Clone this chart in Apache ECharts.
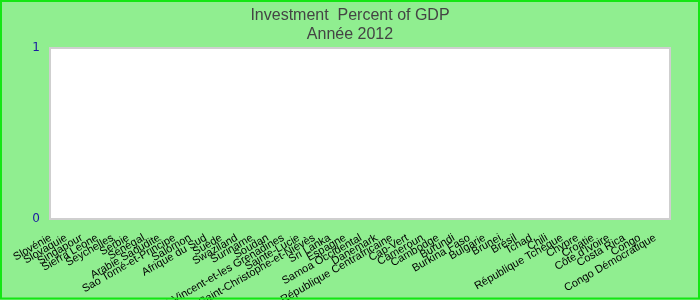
<!DOCTYPE html>
<html>
<head>
<meta charset="utf-8">
<script src="https://cdn.jsdelivr.net/npm/echarts@6/dist/echarts.min.js"></script>
<style>
html,body{margin:0;padding:0;background:#90EE90;}
#chart{width:700px;height:300px;}
</style>
</head>
<body>
<div id="chart"></div>
<script>
var categories = ["Slovénie","Slovaquie","Singapour","Sierra Leone","Seychelles","Serbie","Sénégal","Arabie Saoudite","Sao Tomé-et-Principe","Salomon","Afrique du Sud","Suède","Swaziland","Suriname","Soudan","Saint-Vincent-et-les Grenadines","Sainte-Lucie","Saint-Christophe-et-Niévès","Sri Lanka","Espagne","Samoa Occidental","Danemark","République Centrafricaine","Cap-Vert","Cameroun","Cambodge","Burundi","Burkina Faso","Bulgarie","Brunei","Brésil","Tchad","Chili","République Tchèque","Chypre","Croatie","Côte d'Ivoire","Costa Rica","Congo","Congo Démocratique"];
var values = [0,0,0,0,0,0,0,0,0,0,0,0,0,0,0,0,0,0,0,0,0,0,0,0,0,0,0,0,0,0,0,0,0,0,0,0,0,0,0,0];
var yTicks = [0, 1];
var titleText = "Investment  Percent of GDP";
var subtitleText = "Année 2012";

var chart = echarts.init(document.getElementById('chart'), null, {renderer:'canvas'});
chart.setOption({
  backgroundColor: '#90EE90',
  animation: false,
  title: {
    text: titleText + '\n' + subtitleText,
    left: 'center',
    top: 1,
    textStyle: {fontFamily: 'Liberation Sans, Arial, sans-serif', fontSize: 16, fontWeight: 'normal', color: '#444444', lineHeight: 19}
  },
  grid: {left: 50, right: 30, top: 48, bottom: 81, containLabel: false, outerBoundsMode: 'none', show: true, backgroundColor: '#ffffff', borderColor: '#cfcfcf', borderWidth: 2},
  xAxis: {
    type: 'category',
    data: categories,
    boundaryGap: true,
    axisLine: {show: false},
    axisTick: {show: false},
    axisLabel: {interval: 0, rotate: 30, margin: 14, padding: [0, 8, 0, 0], fontFamily: 'Liberation Sans, Arial, sans-serif', fontSize: 11, color: '#000000'}
  },
  yAxis: {
    type: 'value',
    min: yTicks[0],
    max: yTicks[yTicks.length - 1],
    interval: 1,
    splitLine: {show: false},
    axisLine: {show: false},
    axisTick: {show: false},
    axisLabel: {margin: 10, padding: [7, 0, 0, 0], fontFamily: 'DejaVu Sans, sans-serif', fontSize: 12, color: '#1a1aa0'}
  },
  series: [{type: 'bar', data: values, itemStyle: {color: '#4472c4'}}],
  graphic: [{
    type: 'rect', silent: true, z: 100,
    shape: {x: 1, y: 1, width: 698, height: 297.5},
    style: {fill: 'none', stroke: '#14e614', lineWidth: 2}
  }]
});
</script>
</body>
</html>
